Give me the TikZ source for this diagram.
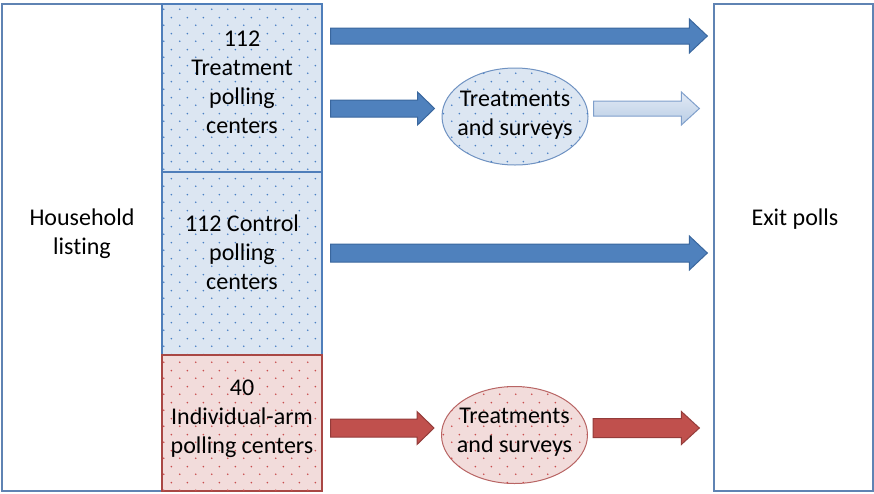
\documentclass[tikz,border=0pt]{standalone}
\usepackage{fontspec}
\setmainfont[Ligatures=NoCommon]{Carlito}
\usetikzlibrary{shapes.geometric,patterns.meta,calc}

\definecolor{boxline}{HTML}{5F83B3}
\definecolor{bluefill}{HTML}{DCE6F2}
\definecolor{blueline}{HTML}{4F7EBA}
\definecolor{bluedot}{HTML}{4A80C4}
\definecolor{redfill}{HTML}{F2DCDB}
\definecolor{redline}{HTML}{A94744}
\definecolor{reddot}{HTML}{C84E4E}
\definecolor{arrblue}{HTML}{4F81BD}
\definecolor{arrblueline}{HTML}{3A679E}
\definecolor{arrred}{HTML}{C0504D}
\definecolor{arrredline}{HTML}{943C3A}
\definecolor{lighttop}{HTML}{E2EAF5}
\definecolor{lightbot}{HTML}{B9CDE5}
\definecolor{lightline}{HTML}{7F9FCB}
\definecolor{ellblue}{HTML}{6F92C2}
\definecolor{ellred}{HTML}{B86564}

\tikzdeclarepattern{
  name=odots,
  type=uncolored,
  bottom left={(0pt,0pt)},
  top right={(16pt,16pt)},
  tile size={(16pt,16pt)},
  code={
    \fill (4pt,4pt) circle (0.95pt);
    \fill (12pt,12pt) circle (0.95pt);
  }
}

% block arrow: start, end, shaft half, head half, head length, style
\newcommand{\blockarrow}[6]{%
  \draw[#6] ($(#1)+(0,-#3)$) -- ($(#2)+(-#5,-#3)$) -- ($(#2)+(-#5,-#4)$) --
    (#2) -- ($(#2)+(-#5,#4)$) -- ($(#2)+(-#5,#3)$) -- ($(#1)+(0,#3)$) -- cycle;}

\begin{document}
\begin{tikzpicture}[x=1pt,y=-1pt,
  txt/.style={align=center,inner sep=0pt,font=\fontsize{24}{29}\selectfont},
  outerbox/.style={draw=boxline,line width=1.3pt,fill=white,inner sep=0pt},
  bluebox/.style={draw=blueline,line width=1.3pt,fill=bluefill,
    postaction={pattern=odots,pattern color=bluedot},
    minimum width=160pt,inner sep=0pt},
  redbox/.style={draw=redline,line width=1.3pt,fill=redfill,
    postaction={pattern=odots,pattern color=reddot},
    minimum width=160pt,inner sep=0pt},
  blueell/.style={ellipse,draw=ellblue,line width=1pt,fill=bluefill,
    postaction={pattern=odots,pattern color=bluedot},
    minimum width=146pt,minimum height=97pt,inner sep=0pt},
  redell/.style={ellipse,draw=ellred,line width=1pt,fill=redfill,
    postaction={pattern=odots,pattern color=reddot},
    minimum width=146pt,minimum height=97pt,inner sep=0pt},
  barr/.style={fill=arrblue,draw=arrblueline,line width=1pt,line join=miter},
  rarr/.style={fill=arrred,draw=arrredline,line width=1pt,line join=miter},
  larr/.style={top color=lighttop,bottom color=lightbot,draw=lightline,line width=1pt,line join=miter}
]
\useasboundingbox (0,0) rectangle (874,493);

\node[outerbox, minimum width=160pt, minimum height=487pt] (hh) at (82,247.5) {};
\node[txt] (hht) at (82,234) {Household\\listing};

\node[bluebox, minimum height=168pt] (treat) at (242,88) {};
\node[txt] (treatt) at (242,82) {112\\Treatment\\polling\\centers};
\node[bluebox, minimum height=183pt] (ctrl) at (242,263.5) {};
\node[txt] (ctrlt) at (242,252.5) {112 Control\\polling\\centers};
\node[redbox, minimum height=136pt] (ind) at (242,423) {};
\node[txt] (indt) at (242,418.5) {40\\Individual-arm\\polling centers};

\node[outerbox, minimum width=159pt, minimum height=487pt] (exit) at (793.5,247.5) {};
\node[txt] (exitt) at (795,219) {Exit polls};

\node[blueell] (e1) at (515,116.5) {};
\node[txt] (e1t) at (515,115.5) {Treatments\\and surveys};
\node[redell] (e2) at (514.5,435) {};
\node[txt] (e2t) at (514.5,432.5) {Treatments\\and surveys};

\coordinate (a1s) at ($(treat.east |- 0,36)+(8,0)$);
\coordinate (a1e) at ($(exit.west |- 0,36)+(-6,0)$);
\coordinate (a2s) at ($(treat.east |- 0,108.5)+(8,0)$);
\coordinate (a2e) at ($(e1.west |- 0,108.5)+(-7,0)$);
\coordinate (a3s) at ($(e1.east |- 0,108.5)+(5,0)$);
\coordinate (a3e) at ($(exit.west |- 0,108.5)+(-14,0)$);
\coordinate (a4s) at ($(ctrl.east |- 0,253)+(8,0)$);
\coordinate (a4e) at ($(exit.west |- 0,253)+(-6,0)$);
\coordinate (a5s) at ($(ind.east |- 0,428)+(8,0)$);
\coordinate (a5e) at ($(e2.west |- 0,428)+(-7,0)$);
\coordinate (a6s) at ($(e2.east |- 0,428)+(5,0)$);
\coordinate (a6e) at ($(exit.west |- 0,428)+(-14,0)$);

\blockarrow{a1s}{a1e}{8}{17}{18}{barr}
\blockarrow{a2s}{a2e}{8.5}{16.5}{17}{barr}
\blockarrow{a3s}{a3e}{7.5}{16.5}{18}{larr}
\blockarrow{a4s}{a4e}{9}{17}{18}{barr}
\blockarrow{a5s}{a5e}{9}{16.5}{17}{rarr}
\blockarrow{a6s}{a6e}{9.5}{16.5}{18}{rarr}
\end{tikzpicture}
\end{document}
